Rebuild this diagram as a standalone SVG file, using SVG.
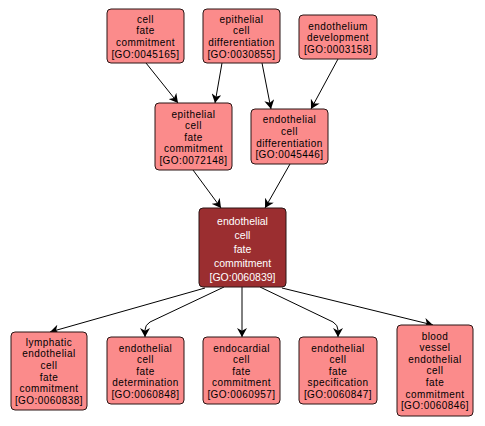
<svg xmlns="http://www.w3.org/2000/svg" width="485" height="426" viewBox="0 0 485 426">
<style>
.node rect{fill:#fb8b8b;stroke:#2a1515;stroke-width:1}
.node text{font-family:"Liberation Sans",Arial,sans-serif;font-size:10px;letter-spacing:0.45px;fill:#000;text-anchor:middle}
#n6 rect{fill:#9b2e30}
#n6 text{fill:#fff;font-size:10.5px;letter-spacing:0}
.edges path{fill:none;stroke:#000;stroke-width:1;marker-end:url(#arr)}
</style>
<defs>
<marker id="arr" viewBox="0 0 10 10" refX="10" refY="5" markerWidth="9" markerHeight="10" markerUnits="userSpaceOnUse" orient="auto" preserveAspectRatio="none">
<path d="M0,0 L10,5 L0,10 L3,5 z" fill="#000"/>
</marker>
</defs>
<rect width="485" height="426" fill="#fff"/>
<g class="edges">
<path d="M146,63 L178,103"/>
<path d="M222,63 L215,103"/>
<path d="M262,63 L271,109"/>
<path d="M338,59 L311,109"/>
<path d="M193,170 L221,208"/>
<path d="M290,164 L265,208"/>
<path d="M205,288 L50,332"/>
<path d="M224,287 L150,322 Q145,325 145,330 L145,337"/>
<path d="M242,287 L242,337"/>
<path d="M260,287 L333,322 Q338,325 338,330 L338,337"/>
<path d="M282,288 L433,325"/>
</g>
<g class="node" id="n1"><rect x="107" y="9" width="77" height="54" rx="4"/>
<text x="145.5" y="22.8"><tspan x="145.5">cell</tspan><tspan x="145.5" dy="11.6">fate</tspan><tspan x="145.5" dy="11.6">commitment</tspan><tspan x="145.5" dy="11.6">[GO:0045165]</tspan></text></g>
<g class="node" id="n2"><rect x="203" y="9" width="77" height="54" rx="4"/>
<text x="241.5" y="22.8"><tspan x="241.5">epithelial</tspan><tspan x="241.5" dy="11.6">cell</tspan><tspan x="241.5" dy="11.6">differentiation</tspan><tspan x="241.5" dy="11.6">[GO:0030855]</tspan></text></g>
<g class="node" id="n3"><rect x="299" y="15" width="78" height="44" rx="4"/>
<text x="338" y="29.6"><tspan x="338">endothelium</tspan><tspan x="338" dy="11.6">development</tspan><tspan x="338" dy="11.6">[GO:0003158]</tspan></text></g>
<g class="node" id="n4"><rect x="155" y="103" width="77" height="67" rx="4"/>
<text x="193.5" y="117.5"><tspan x="193.5">epithelial</tspan><tspan x="193.5" dy="11.6">cell</tspan><tspan x="193.5" dy="11.6">fate</tspan><tspan x="193.5" dy="11.6">commitment</tspan><tspan x="193.5" dy="11.6">[GO:0072148]</tspan></text></g>
<g class="node" id="n5"><rect x="251" y="109" width="77" height="55" rx="4"/>
<text x="289.5" y="123.4"><tspan x="289.5">endothelial</tspan><tspan x="289.5" dy="11.6">cell</tspan><tspan x="289.5" dy="11.6">differentiation</tspan><tspan x="289.5" dy="11.6">[GO:0045446]</tspan></text></g>
<g class="node" id="n6"><rect x="199" y="208" width="87" height="79" rx="4"/>
<text x="242.5" y="224.8"><tspan x="242.5">endothelial</tspan><tspan x="242.5" dy="14">cell</tspan><tspan x="242.5" dy="14">fate</tspan><tspan x="242.5" dy="14">commitment</tspan><tspan x="242.5" dy="14">[GO:0060839]</tspan></text></g>
<g class="node" id="n7"><rect x="11" y="332" width="76" height="78" rx="4"/>
<text x="49" y="345.8"><tspan x="49">lymphatic</tspan><tspan x="49" dy="11.6">endothelial</tspan><tspan x="49" dy="11.6">cell</tspan><tspan x="49" dy="11.6">fate</tspan><tspan x="49" dy="11.6">commitment</tspan><tspan x="49" dy="11.6">[GO:0060838]</tspan></text></g>
<g class="node" id="n8"><rect x="107" y="337" width="77" height="67" rx="4"/>
<text x="145.5" y="351.5"><tspan x="145.5">endothelial</tspan><tspan x="145.5" dy="11.6">cell</tspan><tspan x="145.5" dy="11.6">fate</tspan><tspan x="145.5" dy="11.6">determination</tspan><tspan x="145.5" dy="11.6">[GO:0060848]</tspan></text></g>
<g class="node" id="n9"><rect x="203" y="337" width="77" height="67" rx="4"/>
<text x="241.5" y="351.5"><tspan x="241.5">endocardial</tspan><tspan x="241.5" dy="11.6">cell</tspan><tspan x="241.5" dy="11.6">fate</tspan><tspan x="241.5" dy="11.6">commitment</tspan><tspan x="241.5" dy="11.6">[GO:0060957]</tspan></text></g>
<g class="node" id="n10"><rect x="299" y="337" width="78" height="67" rx="4"/>
<text x="338" y="351.5"><tspan x="338">endothelial</tspan><tspan x="338" dy="11.6">cell</tspan><tspan x="338" dy="11.6">fate</tspan><tspan x="338" dy="11.6">specification</tspan><tspan x="338" dy="11.6">[GO:0060847]</tspan></text></g>
<g class="node" id="n11"><rect x="397" y="325" width="76" height="91" rx="4"/>
<text x="435" y="339.6"><tspan x="435">blood</tspan><tspan x="435" dy="11.6">vessel</tspan><tspan x="435" dy="11.6">endothelial</tspan><tspan x="435" dy="11.6">cell</tspan><tspan x="435" dy="11.6">fate</tspan><tspan x="435" dy="11.6">commitment</tspan><tspan x="435" dy="11.6">[GO:0060846]</tspan></text></g>
</svg>
